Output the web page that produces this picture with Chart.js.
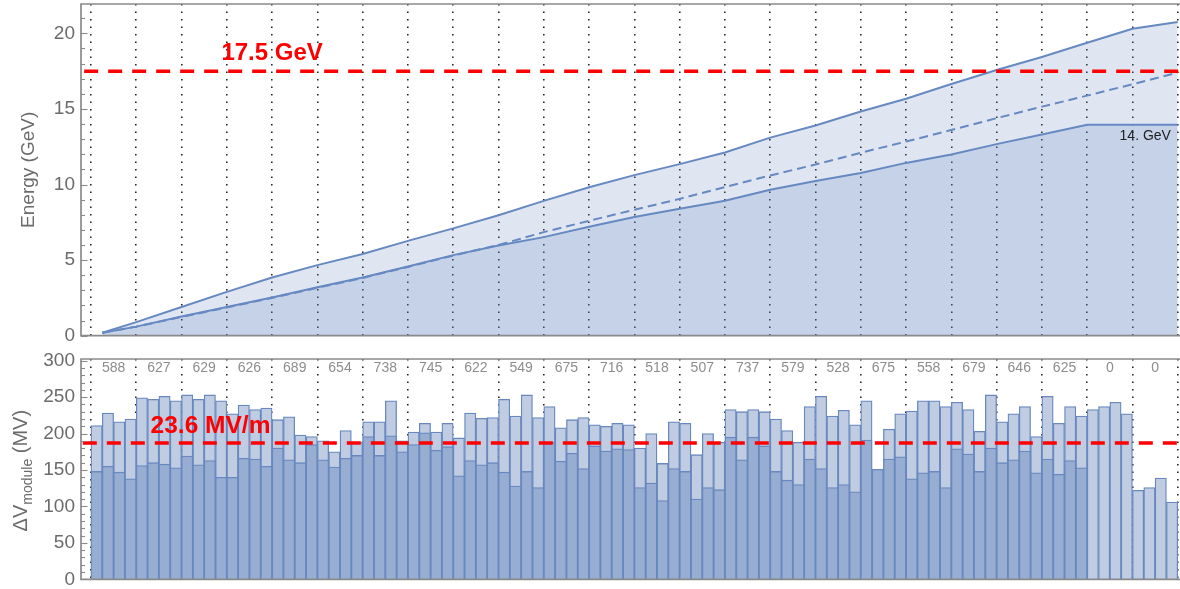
<!DOCTYPE html>
<html>
<head>
<meta charset="utf-8">
<script src="https://cdn.jsdelivr.net/npm/chart.js@4.4.1/dist/chart.umd.min.js"></script>
<style>
  html, body { margin: 0; padding: 0; background: #ffffff; }
  #wrap { position: relative; width: 1180px; height: 589px; overflow: hidden; }
  #energy { position: absolute; left: 0; top: 0; }
  #volt { position: absolute; left: 0; top: 345px; }
</style>
</head>
<body>
<div id="wrap">
  <canvas id="energy" width="1180" height="345"></canvas>
  <canvas id="volt" width="1180" height="244"></canvas>
</div>
<script>
// ---- data -------------------------------------------------------------
// cryomodule numbers along the linac
const modules = Array.from({ length: 96 }, (_, i) => i + 1);
// boundaries between the 24 four-module groups (module units)
const groupEdges = [0, 4, 8, 12, 16, 20, 24, 28, 32, 36, 40, 44, 48, 52, 56, 60, 64, 68, 72, 76, 80, 84, 88, 92, 96];
// summed operating voltage per group (MV)
const groupSums = [588, 627, 629, 626, 689, 654, 738, 745, 622, 549, 675, 716, 518, 507, 737, 579, 528, 675, 558, 679, 646, 625, 0, 0];

// maximum usable voltage per module (MV)
const maxVoltage = [
  211, 228, 216, 220,  249, 247, 251, 245,  253, 247, 253, 245,  227, 239, 233, 235,
  219, 223, 198, 196,  190, 175, 204, 188,  216, 216, 245, 190,  202, 214, 202, 214,
  194, 228, 221, 222,  247, 224, 253, 222,  237, 208, 219, 222,  212, 210, 214, 212,
  180, 200, 159, 216,  214, 171, 200, 188,  233, 230, 233, 230,  220, 204, 188, 237,
  251, 224, 232, 212,  245, 151, 206, 227,  231, 245, 245, 237,  243, 233, 203, 253,
  216, 227, 237, 196,  251, 214, 237, 224,  233, 237, 243, 227,  122, 126, 139, 106
];
// operating voltage per module (MV)
const operatingVoltage = [
  148, 155, 147, 138,  156, 160, 158, 153,  169, 157, 163, 140,  140, 166, 165, 155,
  180, 164, 160, 185,  164, 154, 166, 170,  196, 170, 197, 175,  185, 201, 177, 182,
  142, 163, 157, 160,  147, 128, 148, 126,  188, 162, 173, 152,  183, 176, 179, 178,
  126, 132, 108, 152,  148, 110, 126, 123,  195, 164, 195, 183,  148, 136, 130, 165,
  152, 126, 130, 120,  191, 151, 165, 168,  138, 146, 148, 126,  179, 172, 148, 180,
  160, 164, 176, 146,  165, 144, 163, 153,    0,   0,   0,   0,    0,   0,   0,   0
];

// beam energy along the linac (GeV), sampled at group boundaries
const energyX       = [1, 4, 8, 12, 16, 20, 24, 28, 32, 36, 40, 44, 48, 52, 56, 60, 64, 68, 72, 76, 80, 84, 88, 92, 96];
const energyMax     = [0.2, 0.9, 1.9, 2.9, 3.85, 4.67, 5.4, 6.27, 7.1, 7.97, 8.92, 9.82, 10.62, 11.35, 12.12, 13.1, 13.9, 14.83, 15.67, 16.65, 17.57, 18.43, 19.38, 20.3, 20.75];
const energyOper    = [0.2, 0.6, 1.27, 1.9, 2.52, 3.2, 3.85, 4.58, 5.33, 5.96, 6.52, 7.2, 7.85, 8.4, 8.92, 9.66, 10.23, 10.76, 11.43, 11.98, 12.67, 13.31, 13.95, 13.95, 13.95];
const energyDesign  = [0.2, 0.6, 1.24, 1.87, 2.5, 3.17, 3.82, 4.55, 5.3, 6.0, 6.85, 7.6, 8.33, 9.05, 9.83, 10.6, 11.32, 12.1, 12.84, 13.6, 14.39, 15.15, 15.88, 16.63, 17.4];

const energyTicks = [0, 5, 10, 15, 20];
const voltTicks = [0, 50, 100, 150, 200, 250, 300];
const targetEnergy = 17.5;       // GeV
const targetVoltage = 187;       // MV per module at 23.6 MV/m
const finalOperEnergy = 14;      // GeV

// ---- styling ----------------------------------------------------------
const FONT = '"Liberation Sans", Arial, Helvetica, sans-serif';
const frameGray = '#8a8a8a';
const labelGray = '#6b6b6b';
const curveBlue = '#6689c2';
const areaBlue = 'rgba(96,130,190,0.20)';
const barEdge = '#6888bf';
const X_MIN = -0.88, X_MAX = 96.2;

// fixed box sizes so the plot areas line up exactly
function fixWidth(s) {
  s.width = 81;
  s.paddingTop = 0; s.paddingBottom = 0; s.paddingLeft = 0; s.paddingRight = 0;
}
function fixHeight(s) {
  s.height = 0;
  s.paddingTop = 0; s.paddingBottom = 0; s.paddingLeft = 0; s.paddingRight = 0;
}

// frame with inward Mathematica-style ticks on the left edge
function drawFrame(chart, minor, major) {
  const { ctx, chartArea: a } = chart;
  const y = chart.scales.y;
  ctx.save();
  ctx.strokeStyle = frameGray;
  ctx.lineWidth = 1.7;
  ctx.beginPath();
  ctx.moveTo(a.right + 4, a.top);
  ctx.lineTo(a.left, a.top);
  ctx.lineTo(a.left, a.bottom);
  ctx.lineTo(a.right + 4, a.bottom);
  ctx.stroke();
  ctx.lineWidth = 1.1;
  for (let k = 0; k * minor <= y.max + 1e-9; k++) {
    const v = k * minor;
    const py = Math.round(y.getPixelForValue(v)) + 0.5;
    const len = (v % major === 0) ? 6.5 : 4;
    ctx.beginPath();
    ctx.moveTo(a.left, py);
    ctx.lineTo(a.left + len, py);
    ctx.stroke();
  }
  ctx.restore();
}

const commonX = {
  type: 'linear',
  min: X_MIN,
  max: X_MAX,
  offset: false,
  afterBuildTicks: s => { s.ticks = groupEdges.map(v => ({ value: v })); },
  afterFit: fixHeight,
  ticks: { display: false },
  grid: { display: true, color: '#262626', lineWidth: 1.6, drawTicks: false, offset: false },
  border: { display: false, dash: [1.6, 5.9] }
};

// ---- energy panel -----------------------------------------------------
const energyDecor = {
  id: 'energyDecor',
  afterDraw(chart) {
    drawFrame(chart, 1, 5);
    const { ctx, chartArea: a, scales: { x, y } } = chart;
    ctx.save();
    // axis title
    ctx.fillStyle = labelGray;
    ctx.font = '19px ' + FONT;
    ctx.translate(33.5, (a.top + a.bottom) / 2);
    ctx.rotate(-Math.PI / 2);
    ctx.textAlign = 'center';
    ctx.textBaseline = 'alphabetic';
    ctx.fillText('Energy (GeV)', 0, 0);
    ctx.restore();

    ctx.save();
    ctx.fillStyle = '#ff0000';
    ctx.font = 'bold 24px ' + FONT;
    ctx.textAlign = 'center';
    ctx.textBaseline = 'alphabetic';
    ctx.fillText(targetEnergy + ' GeV', x.getPixelForValue(16), y.getPixelForValue(18.25));

    ctx.fillStyle = '#222222';
    ctx.font = '14px ' + FONT;
    ctx.textAlign = 'right';
    ctx.fillText(finalOperEnergy + '. GeV', x.getPixelForValue(95.4), y.getPixelForValue(12.95));
    ctx.restore();
  }
};

new Chart(document.getElementById('energy'), {
  type: 'line',
  data: {
    datasets: [
      {
        label: 'design',
        data: energyX.map((v, i) => ({ x: v, y: energyDesign[i] })),
        borderColor: curveBlue, borderWidth: 2, borderDash: [9, 5],
        pointRadius: 0, fill: false, tension: 0, order: 0
      },
      {
        label: 'operating',
        data: energyX.map((v, i) => ({ x: v, y: energyOper[i] })),
        borderColor: curveBlue, borderWidth: 2, backgroundColor: areaBlue,
        pointRadius: 0, fill: 'origin', tension: 0, order: 1
      },
      {
        label: 'maximum',
        data: energyX.map((v, i) => ({ x: v, y: energyMax[i] })),
        borderColor: curveBlue, borderWidth: 2, backgroundColor: areaBlue,
        pointRadius: 0, fill: 'origin', tension: 0, order: 2
      },
      {
        label: 'target',
        data: [{ x: -0.6, y: targetEnergy }, { x: X_MAX, y: targetEnergy }],
        borderColor: '#ff0000', borderWidth: 3.5, borderDash: [14, 10],
        pointRadius: 0, fill: false, order: -1
      }
    ]
  },
  options: {
    responsive: false,
    animation: false,
    devicePixelRatio: 1,
    layout: { padding: { left: 0, right: 0, top: 4, bottom: 9.3 } },
    plugins: { legend: { display: false }, tooltip: { enabled: false } },
    scales: {
      x: commonX,
      y: {
        type: 'linear', min: 0, max: 21.94,
        afterBuildTicks: s => { s.ticks = energyTicks.map(v => ({ value: v })); },
        afterFit: fixWidth,
        ticks: { color: labelGray, font: { family: FONT, size: 19 }, padding: 6 },
        grid: { display: false, drawTicks: false },
        border: { display: false }
      }
    }
  },
  plugins: [energyDecor]
});

// ---- module voltage panel ---------------------------------------------
const voltDecor = {
  id: 'voltDecor',
  afterDraw(chart) {
    drawFrame(chart, 10, 50);
    const { ctx, chartArea: a, scales: { x, y } } = chart;

    // group sums above the bars
    ctx.save();
    ctx.fillStyle = '#8d8d8d';
    ctx.font = '14px ' + FONT;
    ctx.textAlign = 'center';
    ctx.textBaseline = 'middle';
    groupSums.forEach((s, g) => {
      const mid = (groupEdges[g] + groupEdges[g + 1]) / 2;
      ctx.fillText(String(s), x.getPixelForValue(mid), y.getPixelForValue(290));
    });
    ctx.restore();

    // gradient label
    ctx.save();
    ctx.fillStyle = '#ff0000';
    ctx.font = 'bold 24.5px ' + FONT;
    ctx.textAlign = 'center';
    ctx.textBaseline = 'alphabetic';
    ctx.fillText('23.6 MV/m', x.getPixelForValue(10.56), y.getPixelForValue(200.8));
    ctx.restore();

    // axis title with subscript
    ctx.save();
    ctx.fillStyle = labelGray;
    const mainFont = '20px ' + FONT, subFont = '14px ' + FONT;
    ctx.font = mainFont;
    const w1 = ctx.measureText('\u0394V').width;
    const w3 = ctx.measureText(' (MV)').width;
    ctx.font = subFont;
    const w2 = ctx.measureText('module').width;
    const total = w1 + w2 + w3;
    ctx.translate(27, (a.top + a.bottom) / 2 + 1.5 + total / 2);
    ctx.rotate(-Math.PI / 2);
    ctx.textAlign = 'left';
    ctx.textBaseline = 'alphabetic';
    ctx.font = mainFont;
    ctx.fillText('\u0394V', 0, 0);
    ctx.font = subFont;
    ctx.fillText('module', w1, 4.5);
    ctx.font = mainFont;
    ctx.fillText(' (MV)', w1 + w2, 0);
    ctx.restore();
  }
};

new Chart(document.getElementById('volt'), {
  type: 'bar',
  data: {
    datasets: [
      {
        type: 'line',
        label: '23.6 MV/m',
        data: [{ x: -0.72, y: targetVoltage }, { x: X_MAX, y: targetVoltage }],
        borderColor: '#ff0000', borderWidth: 3.5, borderDash: [14, 10],
        pointRadius: 0, fill: false, order: 0
      },
      {
        label: 'operating',
        data: modules.map((m, i) => ({ x: m - 0.5, y: operatingVoltage[i] })),
        backgroundColor: '#97aed2', borderColor: barEdge, borderWidth: 1.3,
        grouped: false, stack: 'm', categoryPercentage: 1, barPercentage: 1, order: 1
      },
      {
        label: 'maximum',
        data: modules.map((m, i) => ({ x: m - 0.5, y: maxVoltage[i] })),
        backgroundColor: '#bfcce2', borderColor: barEdge, borderWidth: 1.3,
        grouped: false, stack: 'm', categoryPercentage: 1, barPercentage: 1, order: 2
      }
    ]
  },
  options: {
    responsive: false,
    animation: false,
    devicePixelRatio: 1,
    layout: { padding: { left: 0, right: 0, top: 14, bottom: 9.7 } },
    plugins: { legend: { display: false }, tooltip: { enabled: false } },
    scales: {
      x: Object.assign({}, commonX, { stacked: false }),
      y: {
        type: 'linear', min: 0, max: 302.3, stacked: false,
        afterBuildTicks: s => { s.ticks = voltTicks.map(v => ({ value: v })); },
        afterFit: fixWidth,
        ticks: { color: labelGray, font: { family: FONT, size: 19 }, padding: 6 },
        grid: { display: false, drawTicks: false },
        border: { display: false }
      }
    }
  },
  plugins: [voltDecor]
});
</script>
</body>
</html>
